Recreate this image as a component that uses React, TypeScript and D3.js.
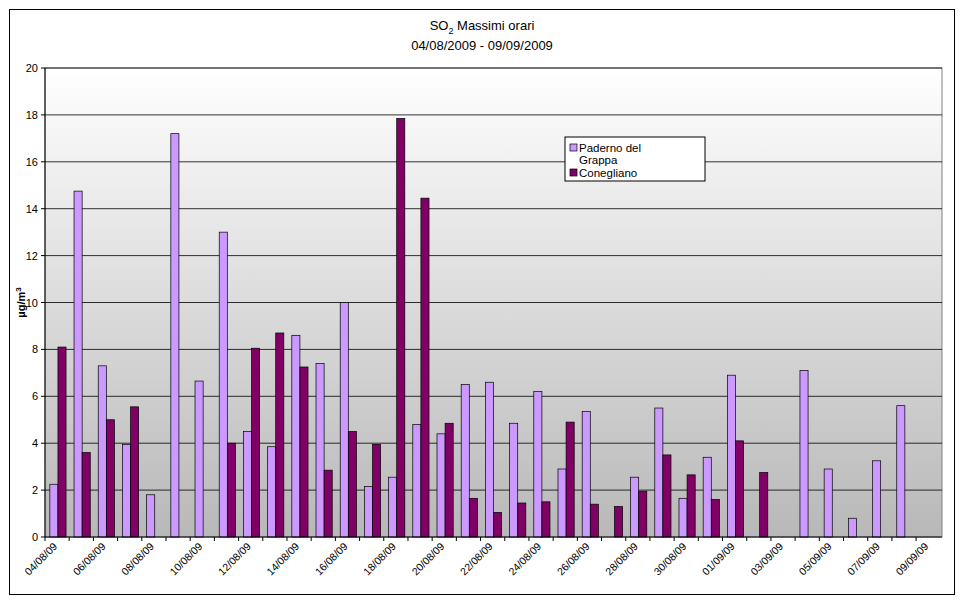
import React from "react";
import * as d3 from "d3";

const dates = ["04/08/09","05/08/09","06/08/09","07/08/09","08/08/09","09/08/09","10/08/09","11/08/09","12/08/09","13/08/09","14/08/09","15/08/09","16/08/09","17/08/09","18/08/09","19/08/09","20/08/09","21/08/09","22/08/09","23/08/09","24/08/09","25/08/09","26/08/09","27/08/09","28/08/09","29/08/09","30/08/09","31/08/09","01/09/09","02/09/09","03/09/09","04/09/09","05/09/09","06/09/09","07/09/09","08/09/09","09/09/09"];
const paderno = [2.25,14.75,7.3,3.95,1.8,17.2,6.65,13.0,4.5,3.85,8.6,7.4,10.0,2.15,2.55,4.8,4.4,6.5,6.6,4.85,6.2,2.9,5.35,null,2.55,5.5,1.65,3.4,6.9,null,null,7.1,2.9,0.8,3.25,5.6,null];
const conegliano = [8.1,3.6,5.0,5.55,null,null,null,4.0,8.05,8.7,7.25,2.85,4.5,3.95,17.85,14.45,4.85,1.65,1.05,1.45,1.5,4.9,1.4,1.3,1.95,3.5,2.65,1.6,4.1,2.75,null,null,null,null,null,null,null];
const yTicks = [0,2,4,6,8,10,12,14,16,18,20];

const L = 45, R = 942, T = 68, B = 537;
const cP = "#cc99ff", cC = "#800066";

export default function App() {
  const x = d3.scaleBand<string>().domain(dates).range([L, R]).paddingInner(0.33).paddingOuter(0.2);
  const y = d3.scaleLinear().domain([0, 20]).range([B, T]);
  const bw = x.bandwidth() / 2;
  const font = "Arial, 'Liberation Sans', sans-serif";
  const bars = (vals: (number | null)[], off: number, col: string) =>
    vals.map((v, i) => v == null ? null : (
      <rect key={i} x={x(dates[i])! + off} y={y(v)} width={bw} height={B - y(v)} fill={col} stroke="#000" strokeWidth={0.7} />
    ));
  return (
    <svg width={965} height={603} style={{ position: "absolute", left: 0, top: 0 }} fontFamily={font}>
      <defs>
        <linearGradient id="bg" x1="0" y1="0" x2="0" y2="1">
          <stop offset="0" stopColor="#ffffff" />
          <stop offset="1" stopColor="#b8b8b8" />
        </linearGradient>
      </defs>
      <rect x={9.5} y={9.5} width={945} height={585} fill="#fff" stroke="#000" />
      <rect x={L} y={T} width={R - L} height={B - T} fill="url(#bg)" stroke="#808080" />
      {yTicks.map(t => (
        <g key={t}>
          {t > 0 && <line x1={L} x2={R} y1={y(t)} y2={y(t)} stroke="#000" strokeWidth={0.8} />}
          <line x1={L - 4} x2={L} y1={y(t)} y2={y(t)} stroke="#000" />
          <text x={L - 7} y={y(t) + 4} fontSize={11} textAnchor="end">{t}</text>
        </g>
      ))}
      {bars(paderno, 0, cP)}
      {bars(conegliano, bw, cC)}
      <line x1={L} x2={L} y1={T} y2={B} stroke="#000" />
      <line x1={L} x2={R} y1={B} y2={B} stroke="#000" />
      {dates.map((d, i) => {
        const cx = x(d)! + x.bandwidth() / 2;
        return (
          <g key={d}>
            <line x1={x(d)! - x.step() * 0.2} x2={x(d)! - x.step() * 0.2} y1={B} y2={B + 4} stroke="#000" />
            {i % 2 === 0 && (
              <text transform={`translate(${cx},${B + 10}) rotate(-45)`} fontSize={10.5} textAnchor="end">{d}</text>
            )}
          </g>
        );
      })}
      <text x={482} y={30} fontSize={13} textAnchor="middle">SO<tspan fontSize={9} dy={4}>2</tspan><tspan dy={-4}> Massimi orari</tspan></text>
      <text x={482} y={50} fontSize={13} textAnchor="middle">04/08/2009 - 09/09/2009</text>
      <text transform={`translate(25,${(T + B) / 2}) rotate(-90)`} fontSize={11} fontWeight="bold" textAnchor="middle">µg/m<tspan fontSize={8} dy={-4}>3</tspan></text>
      <g transform="translate(565,137)">
        <rect x={0} y={0} width={140} height={44} fill="#fff" stroke="#000" />
        <rect x={5} y={7} width={7} height={7} fill={cP} stroke="#000" strokeWidth={0.7} />
        <text x={14} y={15} fontSize={11.5}>Paderno del</text>
        <text x={14} y={27} fontSize={11.5}>Grappa</text>
        <rect x={5} y={32} width={7} height={7} fill={cC} stroke="#000" strokeWidth={0.7} />
        <text x={14} y={40} fontSize={11.5}>Conegliano</text>
      </g>
    </svg>
  );
}
